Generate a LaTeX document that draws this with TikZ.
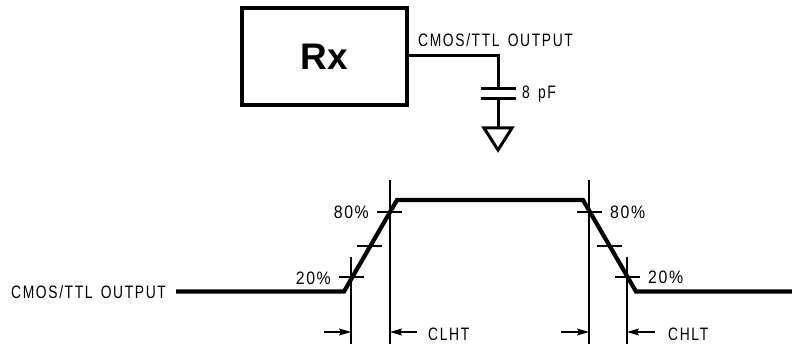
\documentclass[tikz,border=0pt]{standalone}
\usepackage{fontspec}
\setmainfont{Liberation Sans}
\newfontfamily\labelfont[LetterSpace=9,FakeStretch=0.77,WordSpace=1.5]{Liberation Sans}
\newfontfamily\pctfont[LetterSpace=9,FakeStretch=0.88]{Liberation Sans}
\usetikzlibrary{arrows.meta,positioning,calc}

\begin{document}
\begin{tikzpicture}[
    x=1pt, y=-1pt,
    rxbox/.style={rectangle, draw, line width=4pt, minimum width=165pt, minimum height=97.5pt, inner sep=0pt, font=\fontsize{37}{40}\selectfont\bfseries},
    wire/.style={line width=3pt},
    plate/.style={line width=3pt},
    signal/.style={line width=4.2pt, line join=miter},
    guide/.style={line width=1.2pt},
    dim arrow/.style={line width=1.2pt, -{Stealth[length=12pt, width=7pt, inset=2pt]}},
    txt/.style={inner sep=0pt, font=\labelfont\fontsize{18}{20}\selectfont},
    pct/.style={inner sep=0pt, font=\pctfont\fontsize{18}{20}\selectfont}
]
    \useasboundingbox (0,0) rectangle (792,347);

    % Top
    \node[rxbox] (rx) at (324.5,56.7) {Rx};
    \node[txt, anchor=west] (outtop) at (418,40) {CMOS/TTL OUTPUT};
    \coordinate (bend) at (498,56);
    \coordinate (capa) at (498,89);
    \coordinate (capb) at (498,99);
    \coordinate (gnd) at (498,128);
    \draw[wire] (rx.east |- bend) -- (bend) -- (capa);
    \draw[wire] (capb) -- (gnd);
    \draw[plate] ($(capa)+(-17.5,0)$) -- ($(capa)+(17.5,0)$);
    \draw[plate] ($(capb)+(-17.5,0)$) -- ($(capb)+(17.5,0)$);
    \draw[wire, line join=miter] ($(gnd)+(-14,0)$) -- ($(gnd)+(14,0)$) -- ($(gnd)+(0,22)$) -- cycle;
    \node[txt, anchor=west] (cap) at (522,94) {8 pF};

    % Waveform
    \node[txt, anchor=west] (outlow) at (11,292) {CMOS/TTL OUTPUT};
    \coordinate (s0) at (176,291.5);
    \coordinate (s1) at (344,291.5);
    \coordinate (s2) at (397,200);
    \coordinate (s3) at (583,200);
    \coordinate (s4) at (636,291.5);
    \coordinate (s5) at (792,291.5);
    \draw[signal] (s0) -- (s1) -- (s2) -- (s3) -- (s4) -- (s5);

    % Level ticks
    \foreach \name/\px/\py in {ta/351.5/277, tb/369.5/246, tc/389.5/212, td/589.5/212, te/609/246, tf/627.5/277} {
        \coordinate (\name) at (\px,\py);
        \draw[guide] ($(\name)+(-12.5,0)$) -- ($(\name)+(12.5,0)$);
    }
    \node[pct, anchor=east] (lowa) at (331,278) {20\%};
    \node[pct, anchor=east] (higha) at (369,212) {80\%};
    \node[pct, anchor=west] (highb) at (610,212) {80\%};
    \node[pct, anchor=west] (lowb) at (648,277) {20\%};

    % Guide lines and arrows
    \foreach \name/\px/\py/\tail in {ga/351/257/324, gb/390/180/417, gc/589/180/561, gd/627/257/655} {
        \coordinate (\name) at (\px,332);
        \coordinate (\name t) at (\tail,332);
        \draw[guide] (\px,\py) -- (\px,344);
        \draw[dim arrow] (\name t) -- (\name);
    }
    \node[txt, anchor=west] (clht) at (428,334) {CLHT};
    \node[txt, anchor=west] (chlt) at (668,334) {CHLT};
\end{tikzpicture}
\end{document}
